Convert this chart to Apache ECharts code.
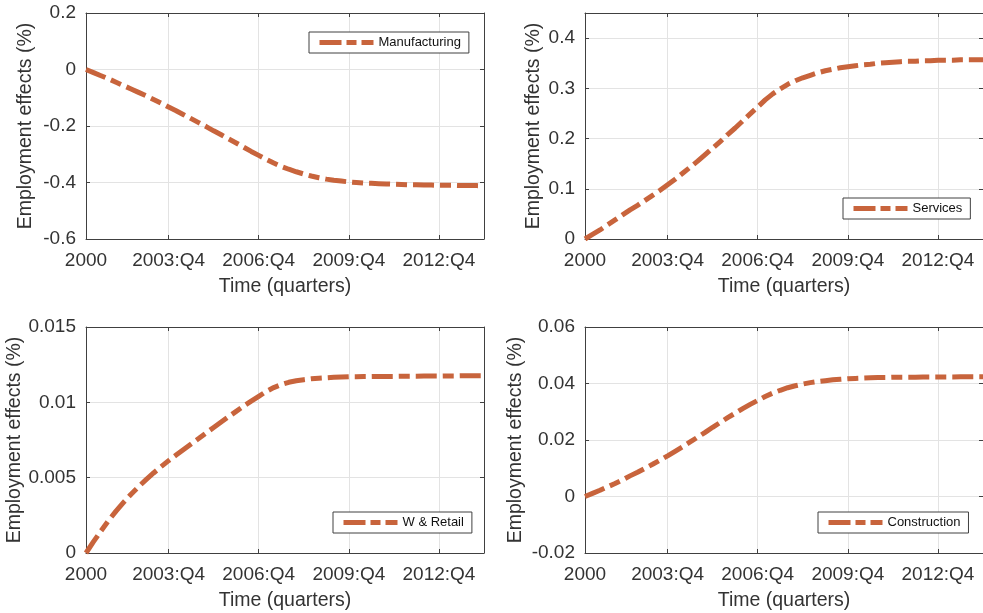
<!DOCTYPE html>
<html>
<head>
<meta charset="utf-8">
<title>Employment effects</title>
<script src="https://cdn.jsdelivr.net/npm/echarts@6/dist/echarts.min.js"></script>
<style>
  html, body { margin: 0; padding: 0; background: #fff; }
  #main { width: 983px; height: 613px; }
</style>
</head>
<body>
<div id="main"></div>
<script>
// quarter index 1..54 on the x axis
var quarters = [1, 2, 3, 4, 5, 6, 7, 8, 9, 10, 11, 12, 13, 14, 15, 16, 17, 18,
  19, 20, 21, 22, 23, 24, 25, 26, 27, 28, 29, 30, 31, 32, 33, 34, 35, 36,
  37, 38, 39, 40, 41, 42, 43, 44, 45, 46, 47, 48, 49, 50, 51, 52, 53, 54];
var xTickValues = [1, 12, 24, 36, 48];
var xTickLabels = ['2000', '2003:Q4', '2006:Q4', '2009:Q4', '2012:Q4'];

var manufacturing = [0, -0.011, -0.022, -0.033, -0.045, -0.057, -0.069, -0.081, -0.093,
  -0.106, -0.119, -0.133, -0.146, -0.160, -0.174, -0.188, -0.202, -0.217, -0.231,
  -0.246, -0.260, -0.275, -0.290, -0.304, -0.318, -0.331, -0.343, -0.353, -0.362,
  -0.370, -0.377, -0.383, -0.388, -0.392, -0.395, -0.398, -0.400, -0.402, -0.403,
  -0.404, -0.405, -0.406, -0.407, -0.408, -0.408, -0.409, -0.409, -0.410, -0.410,
  -0.410, -0.411, -0.411, -0.411, -0.412];
var services = [0, 0.009, 0.018, 0.028, 0.038, 0.048, 0.058, 0.067, 0.077, 0.087,
  0.097, 0.108, 0.119, 0.131, 0.143, 0.155, 0.168, 0.181, 0.194, 0.208, 0.221,
  0.235, 0.249, 0.263, 0.277, 0.289, 0.299, 0.308, 0.315, 0.321, 0.326, 0.331,
  0.335, 0.338, 0.341, 0.343, 0.345, 0.347, 0.348, 0.350, 0.351, 0.352, 0.353,
  0.354, 0.354, 0.355, 0.355, 0.356, 0.356, 0.356, 0.357, 0.357, 0.357, 0.357];
var retail = [0, 0.00075, 0.00147, 0.00215, 0.00278, 0.00336, 0.0039, 0.0044, 0.00487,
  0.00531, 0.00573, 0.00613, 0.0065, 0.00687, 0.00724, 0.0076, 0.00797, 0.00833,
  0.00869, 0.00905, 0.0094, 0.00975, 0.01008, 0.0104, 0.01072, 0.01098, 0.01118,
  0.01133, 0.01143, 0.0115, 0.01156, 0.0116, 0.01163, 0.01166, 0.01168, 0.0117,
  0.0117, 0.01171, 0.01171, 0.01172, 0.01172, 0.01172, 0.01173, 0.01173, 0.01173,
  0.01174, 0.01174, 0.01174, 0.01175, 0.01175, 0.01176, 0.01176, 0.01177, 0.01177];
var construction = [0, 0.0011, 0.0022, 0.0034, 0.0046, 0.0059, 0.0073, 0.0086, 0.0100,
  0.0114, 0.0129, 0.0144, 0.0160, 0.0176, 0.0193, 0.0210, 0.0227, 0.0245, 0.0262,
  0.0279, 0.0295, 0.0311, 0.0326, 0.0340, 0.0354, 0.0366, 0.0376, 0.0385, 0.0392,
  0.0398, 0.0403, 0.0407, 0.0410, 0.0413, 0.0415, 0.0417, 0.0418, 0.0419, 0.0420,
  0.0421, 0.0421, 0.0422, 0.0422, 0.0422, 0.0422, 0.0423, 0.0423, 0.0423, 0.0423,
  0.0423, 0.0424, 0.0424, 0.0424, 0.0424];

var names = ['Manufacturing', 'Services', 'W & Retail', 'Construction'];
var seriesValues = [manufacturing, services, retail, construction];
var yMin = [-0.6, 0, 0, -0.02];
var yMax = [0.2, 0.45, 0.015, 0.06];
var yTicks = [
  [-0.6, -0.4, -0.2, 0, 0.2],
  [0, 0.1, 0.2, 0.3, 0.4],
  [0, 0.005, 0.01, 0.015],
  [-0.02, 0, 0.02, 0.04, 0.06]
];

var font = '"Liberation Sans", Arial, Helvetica, sans-serif';
var textColor = '#333333';
var axisColor = '#404040';
var lineColor = '#c8643c';

// panel boxes and where each legend sits
var panels = [
  {left: 86, top: 13, nameGap: 50, legendLeft: 309, legendTop: 32},
  {left: 585, top: 13, nameGap: 41, legendLeft: 843, legendTop: 198},
  {left: 86, top: 327, nameGap: 59, legendLeft: 333, legendTop: 512},
  {left: 585, top: 327, nameGap: 59, legendLeft: 818, legendTop: 512}
];

function pairs(xs, ys) {
  var out = [];
  for (var i = 0; i < xs.length; i++) {
    out.push([xs[i], ys[i]]);
  }
  return out;
}

var grid = [], xAxis = [], yAxis = [], series = [], legend = [];

for (var i = 0; i < panels.length; i++) {
  var p = panels[i];
  grid.push({left: p.left, top: p.top, width: 398, height: 226, containLabel: false});

  // bottom axis with labels
  xAxis.push({
    type: 'value', gridIndex: i, min: 1, max: 54, position: 'bottom',
    name: 'Time (quarters)', nameLocation: 'middle', nameGap: 38,
    nameTextStyle: {color: textColor, fontSize: 19.5, fontFamily: font},
    axisLine: {show: true, onZero: false, lineStyle: {color: axisColor, width: 1}},
    axisTick: {show: true, inside: true, length: 4, customValues: xTickValues,
      lineStyle: {color: axisColor}},
    axisLabel: {customValues: xTickValues, margin: 12, color: textColor, fontSize: 19,
      fontFamily: font,
      formatter: function (v) {
        var k = xTickValues.indexOf(v);
        return k >= 0 ? xTickLabels[k] : '';
      }},
    splitLine: {show: true, lineStyle: {color: '#e3e3e3', width: 1}}
  });
  // top box edge
  xAxis.push({
    type: 'value', gridIndex: i, min: 1, max: 54, position: 'top',
    axisLine: {show: true, onZero: false, lineStyle: {color: axisColor, width: 1}},
    axisTick: {show: true, inside: true, length: 4, customValues: xTickValues,
      lineStyle: {color: axisColor}},
    axisLabel: {show: false},
    splitLine: {show: false}
  });

  yAxis.push({
    type: 'value', gridIndex: i, min: yMin[i], max: yMax[i], position: 'left',
    name: 'Employment effects (%)', nameLocation: 'middle', nameGap: p.nameGap,
    nameTextStyle: {color: textColor, fontSize: 19.5, fontFamily: font},
    axisLine: {show: true, onZero: false, lineStyle: {color: axisColor, width: 1}},
    axisTick: {show: true, inside: true, length: 4, customValues: yTicks[i],
      lineStyle: {color: axisColor}},
    axisLabel: {customValues: yTicks[i], margin: 10, color: textColor, fontSize: 19,
      fontFamily: font},
    splitLine: {show: true, lineStyle: {color: '#e3e3e3', width: 1}}
  });
  // right box edge
  yAxis.push({
    type: 'value', gridIndex: i, min: yMin[i], max: yMax[i], position: 'right',
    axisLine: {show: true, onZero: false, lineStyle: {color: axisColor, width: 1}},
    axisTick: {show: true, inside: true, length: 4, customValues: yTicks[i],
      lineStyle: {color: axisColor}},
    axisLabel: {show: false},
    splitLine: {show: false}
  });

  series.push({
    name: names[i], type: 'line', xAxisIndex: i * 2, yAxisIndex: i * 2,
    data: pairs(quarters, seriesValues[i]),
    showSymbol: false, symbol: 'none', smooth: false,
    lineStyle: {color: lineColor, width: 5, type: [21, 6, 11, 6], cap: 'butt'},
    itemStyle: {color: lineColor}
  });

  // legend keeps the dashed line but hides the marker dot
  legend.push({
    data: [names[i]], left: p.legendLeft, top: p.legendTop,
    orient: 'vertical', padding: [4, 8], itemWidth: 54, itemHeight: 14,
    backgroundColor: '#ffffff', borderColor: '#404040', borderWidth: 1,
    borderRadius: 0, selectedMode: false,
    itemStyle: {color: 'rgba(0,0,0,0)', borderWidth: 0, opacity: 0},
    lineStyle: {color: lineColor, width: 5, type: [22, 5, 10, 5], cap: 'butt', opacity: 1},
    textStyle: {color: '#111111', fontSize: 13, fontFamily: font}
  });
}

var chart = echarts.init(document.getElementById('main'), null, {renderer: 'canvas'});
chart.setOption({
  animation: false,
  backgroundColor: '#ffffff',
  grid: grid,
  xAxis: xAxis,
  yAxis: yAxis,
  legend: legend,
  series: series
});
</script>
</body>
</html>
